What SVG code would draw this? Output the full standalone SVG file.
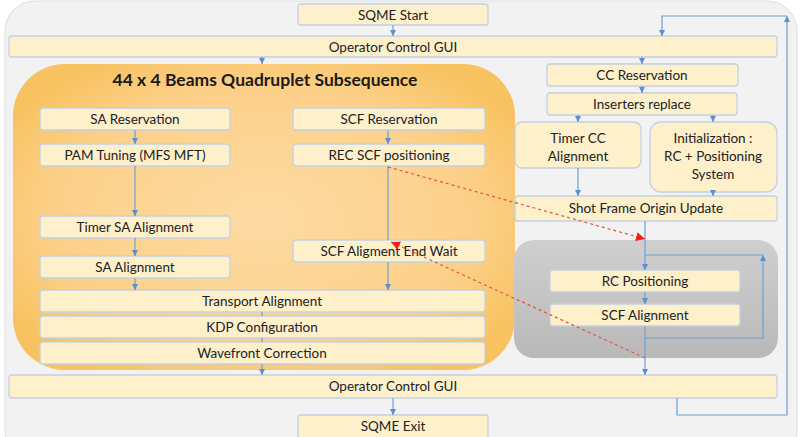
<svg xmlns="http://www.w3.org/2000/svg" width="801" height="437" viewBox="0 0 801 437">
<defs>
<radialGradient id="og" cx="0.5" cy="0.5" r="0.6">
<stop offset="0" stop-color="#fddba3"/>
<stop offset="0.7" stop-color="#fcd089"/>
<stop offset="1" stop-color="#f8c260"/>
</radialGradient>
<linearGradient id="gg" x1="0" y1="0" x2="0" y2="1">
<stop offset="0" stop-color="#cfcfcf"/>
<stop offset="1" stop-color="#b9b9b9"/>
</linearGradient>
<marker id="ab" viewBox="0 0 6 6" refX="6" refY="3" markerWidth="5" markerHeight="5" orient="auto">
<path d="M0,0 L6,3 L0,6 z" fill="#5b8fd0"/>
</marker>
<marker id="ar" viewBox="0 0 10 10" refX="10" refY="5" markerWidth="9" markerHeight="9" markerUnits="userSpaceOnUse" orient="auto">
<path d="M0,0 L10,5 L0,10 z" fill="#ff1a1a"/>
</marker>
</defs>
<style>
.b{fill:#fdf0cb;stroke:#c3d1e2;stroke-width:1.3}
.t{font-family:Lato,"Liberation Sans",sans-serif;font-size:13.5px;fill:#222;text-anchor:middle;dominant-baseline:central}
.c{fill:none;stroke:#6f9fd4;stroke-width:1.2}
.ca{fill:none;stroke:#6f9fd4;stroke-width:1.2;marker-end:url(#ab)}
.r{fill:none;stroke:#e8503f;stroke-width:1.2;stroke-dasharray:3 3;marker-end:url(#ar)}
</style>
<rect x="5" y="1" width="792" height="460" rx="30" fill="#f2f2f2" stroke="#dadde2" stroke-width="1"/>
<g id="subsequence">
<rect x="13" y="64" width="502" height="306" rx="52" fill="url(#og)"/>
<text x="265" y="79" style="font-family:Lato,'Liberation Sans',sans-serif;font-size:17.5px;font-weight:bold;fill:#1a1a1a;text-anchor:middle;dominant-baseline:central">44 x 4 Beams Quadruplet Subsequence</text>
</g>
<g id="rcloop">
<rect x="514" y="240" width="264" height="118" rx="20" fill="url(#gg)"/>
</g>
<g id="sqme-start"><rect class="b" x="298" y="4" width="190" height="21" rx="3"/><text class="t" x="393" y="15">SQME Start</text></g>
<g id="gui-top"><rect class="b" x="9" y="36" width="768" height="21" rx="3"/><text class="t" x="393" y="47">Operator Control GUI</text></g>
<g id="sa-res"><rect class="b" x="40" y="108" width="190" height="22" rx="3"/><text class="t" x="135" y="119">SA Reservation</text></g>
<g id="scf-res"><rect class="b" x="293" y="108" width="192" height="22" rx="3"/><text class="t" x="389" y="119">SCF Reservation</text></g>
<g id="pam"><rect class="b" x="40" y="144" width="190" height="22" rx="3"/><text class="t" x="135" y="155">PAM Tuning (MFS MFT)</text></g>
<g id="rec-scf"><rect class="b" x="293" y="144" width="192" height="22" rx="3"/><text class="t" x="389" y="155">REC SCF positioning</text></g>
<g id="timer-sa"><rect class="b" x="40" y="216" width="190" height="22" rx="3"/><text class="t" x="135" y="227">Timer SA Alignment</text></g>
<g id="sa-align"><rect class="b" x="40" y="256" width="190" height="22" rx="3"/><text class="t" x="135" y="267">SA Alignment</text></g>
<g id="scf-wait"><rect class="b" x="293" y="240" width="192" height="22" rx="3"/><text class="t" x="389" y="251">SCF Aligment End Wait</text></g>
<g id="transport"><rect class="b" x="40" y="290" width="445" height="22" rx="3"/><text class="t" x="262" y="301">Transport Alignment</text></g>
<g id="kdp"><rect class="b" x="40" y="316" width="445" height="22" rx="3"/><text class="t" x="262" y="327">KDP Configuration</text></g>
<g id="wavefront"><rect class="b" x="40" y="342" width="445" height="22" rx="3"/><text class="t" x="262" y="353">Wavefront Correction</text></g>
<g id="cc-res"><rect class="b" x="547" y="64" width="191" height="22" rx="3"/><text class="t" x="642" y="75">CC Reservation</text></g>
<g id="inserters"><rect class="b" x="547" y="93" width="190" height="22" rx="3"/><text class="t" x="642" y="104">Inserters replace</text></g>
<g id="timer-cc"><rect class="b" x="515" y="122" width="126" height="46" rx="7"/><text class="t" x="578" y="138">Timer CC</text><text class="t" x="578" y="156">Alignment</text></g>
<g id="init"><rect class="b" x="650" y="122" width="127" height="70" rx="11"/><text class="t" x="713" y="138">Initialization :</text><text class="t" x="713" y="156">RC + Positioning</text><text class="t" x="713" y="174">System</text></g>
<g id="shot-frame"><rect class="b" x="515" y="196" width="262" height="25" rx="3"/><text class="t" x="646" y="208">Shot Frame Origin Update</text></g>
<g id="rc-pos"><rect class="b" x="550" y="270" width="190" height="22" rx="3"/><text class="t" x="645" y="281">RC Positioning</text></g>
<g id="scf-align"><rect class="b" x="550" y="304" width="190" height="22" rx="3"/><text class="t" x="645" y="315">SCF Alignment</text></g>
<g id="gui-bottom"><rect class="b" x="9" y="375" width="768" height="23" rx="3"/><text class="t" x="393" y="386">Operator Control GUI</text></g>
<g id="sqme-exit"><rect class="b" x="298" y="415" width="190" height="24" rx="3"/><text class="t" x="393" y="426">SQME Exit</text></g>
<g id="connectors">
<line class="ca" x1="393" y1="25" x2="393" y2="36"/>
<line class="ca" x1="262" y1="57" x2="262" y2="64"/>
<line class="ca" x1="642" y1="57" x2="642" y2="64"/>
<line class="ca" x1="642" y1="86" x2="642" y2="93"/>
<line class="ca" x1="578" y1="115" x2="578" y2="122"/>
<line class="ca" x1="713" y1="115" x2="713" y2="122"/>
<line class="ca" x1="578" y1="168" x2="578" y2="196"/>
<line class="ca" x1="713" y1="192" x2="713" y2="196"/>
<line class="ca" x1="135" y1="130" x2="135" y2="144"/>
<line class="ca" x1="388" y1="130" x2="388" y2="144"/>
<line class="ca" x1="135" y1="166" x2="135" y2="216"/>
<line class="ca" x1="135" y1="238" x2="135" y2="256"/>
<line class="ca" x1="135" y1="278" x2="135" y2="290"/>
<line class="c" x1="388" y1="166" x2="388" y2="240"/>
<line class="ca" x1="388" y1="262" x2="388" y2="290"/>
<line class="c" x1="262" y1="312" x2="262" y2="316"/>
<line class="c" x1="262" y1="338" x2="262" y2="342"/>
<line class="ca" x1="262" y1="364" x2="262" y2="375"/>
<line class="ca" x1="393" y1="398" x2="393" y2="415"/>
<line class="ca" x1="645" y1="221" x2="645" y2="270"/>
<line class="ca" x1="645" y1="292" x2="645" y2="304"/>
<line class="ca" x1="645" y1="326" x2="645" y2="375"/>
<polyline class="ca" points="645,338 763,338 763,255"/>
<line class="c" x1="763" y1="255" x2="645" y2="255"/>
<polyline class="ca" points="677,398 677,415 787,415 787,16"/>
<polyline class="ca" points="787,16 662,16 662,36"/>
<line class="r" x1="388" y1="167" x2="645" y2="239"/>
<line class="r" x1="645" y1="358" x2="391" y2="242"/>
</g>
</svg>
